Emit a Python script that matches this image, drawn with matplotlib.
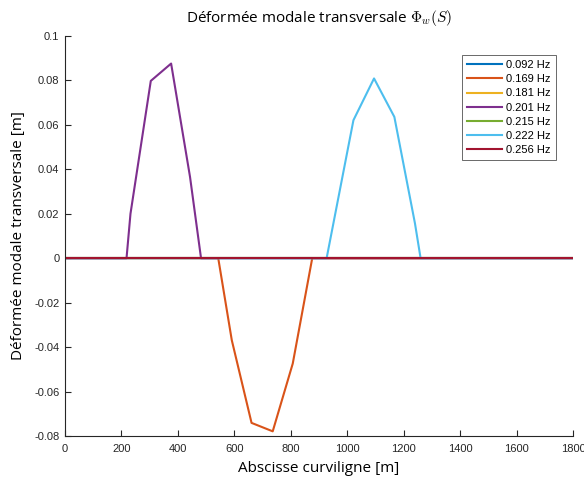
import matplotlib
matplotlib.use("Agg")
import matplotlib.pyplot as plt

plt.rcParams['mathtext.fontset'] = 'cm'

labels = ["0.092 Hz", "0.169 Hz", "0.181 Hz", "0.201 Hz", "0.215 Hz", "0.222 Hz", "0.256 Hz"]
colors = ["#0072BD", "#D95319", "#EDB120", "#7E2F8E", "#77AC30", "#4DBEEE", "#A2142F"]

# abscissa / mode values per series
x_092 = [0, 1800]
y_092 = [0, 0]
x_169 = [0, 543, 591, 661, 736, 807, 876, 1800]
y_169 = [0, 0, -0.0369, -0.0741, -0.0779, -0.0474, 0, 0]
x_181 = [0, 1800]
y_181 = [0, 0]
x_201 = [0, 218, 232, 304, 376, 443, 482, 1800]
y_201 = [0, 0, 0.020, 0.0798, 0.0876, 0.0366, 0, 0]
x_215 = [0, 1800]
y_215 = [0, 0]
x_222 = [0, 927, 1022, 1095, 1167, 1240, 1260, 1800]
y_222 = [0, 0, 0.0621, 0.0809, 0.0636, 0.0157, 0, 0]
x_256 = [0, 1800]
y_256 = [0, 0]

xs = [x_092, x_169, x_181, x_201, x_215, x_222, x_256]
ys = [y_092, y_169, y_181, y_201, y_215, y_222, y_256]

fig = plt.figure(figsize=(5.84, 4.79), dpi=100)
ax = fig.add_axes([65/584, 1-436/479, 508/584, 400/479])

for x, y, c, l in zip(xs, ys, colors, labels):
    ax.plot(x, y, color=c, lw=1.5, label=l)

ax.set_xlim(0, 1800)
ax.set_ylim(-0.08, 0.1)
ax.set_xticks(range(0, 1801, 200))
ax.set_yticks([-0.08, -0.06, -0.04, -0.02, 0, 0.02, 0.04, 0.06, 0.08, 0.1])
ax.set_yticklabels(["-0.08", "-0.06", "-0.04", "-0.02", "0", "0.02", "0.04", "0.06", "0.08", "0.1"])

for s in ['top', 'right']:
    ax.spines[s].set_visible(False)
for s in ['left', 'bottom']:
    ax.spines[s].set_color('#262626')
    ax.spines[s].set_linewidth(0.8)
ax.tick_params(direction='in', length=4, width=0.8, colors='#262626',
               labelsize=8, labelcolor='#262626')
ax.tick_params(axis='x', pad=6)
ax.tick_params(axis='y', pad=4)
for t in ax.get_xticklabels() + ax.get_yticklabels():
    t.set_family('Liberation Sans')

ax.set_xlabel("Abscisse curviligne [m]", fontsize=11, family='Open Sans', labelpad=5)
ax.set_ylabel("Déformée modale transversale [m]", fontsize=11, family='Open Sans', labelpad=6)
ax.set_title(r"Déformée modale transversale $\Phi_w(S)$", fontsize=11, family='Open Sans', pad=10)

leg = ax.legend(loc='upper right', bbox_to_anchor=(0.9665, 0.9525),
                prop={'family': 'Liberation Sans', 'size': 8},
                frameon=True, fancybox=False, edgecolor='#262626',
                handlelength=3.1, handletextpad=0.4, labelspacing=0.38,
                borderpad=0.45, borderaxespad=0.0)
leg.get_frame().set_linewidth(0.6)

fig.savefig("out.png", dpi=100)
